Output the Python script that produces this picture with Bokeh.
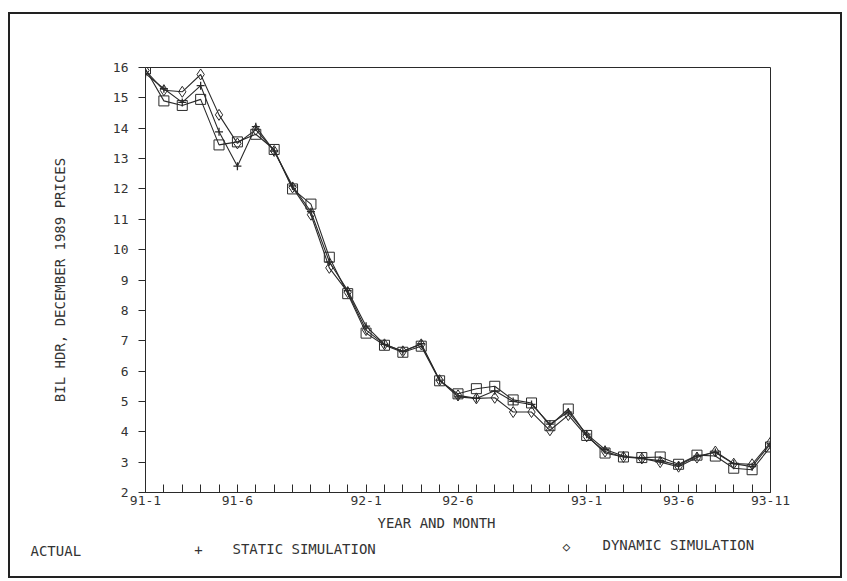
from bokeh.plotting import figure
from bokeh.models import FixedTicker, Label, Range1d
from bokeh.embed import file_html
from bokeh.resources import INLINE

# ---- data ----
month_labels = ["91-1", "91-6", "92-1", "92-6", "93-1", "93-6", "93-11"]
label_months = [0, 5, 12, 17, 24, 29, 34]
months = list(range(35))

actual = [15.95, 14.9, 14.75, 14.95, 13.45, 13.55, 13.8, 13.3, 12.0, 11.5,
          9.75, 8.55, 7.25, 6.85, 6.62, 6.82, 5.68, 5.25, 5.42, 5.5,
          5.05, 4.95, 4.2, 4.75, 3.88, 3.3, 3.17, 3.15, 3.17, 2.93,
          3.23, 3.2, 2.8, 2.75, 3.5]
static = [15.8, 15.3, 14.85, 15.4, 13.88, 12.75, 14.05, 13.25, 12.1, 11.25,
          9.6, 8.65, 7.48, 6.88, 6.65, 6.9, 5.7, 5.15, 5.1, 5.35,
          5.0, 4.9, 4.25, 4.65, 3.92, 3.42, 3.2, 3.12, 3.05, 2.9,
          3.2, 3.32, 2.95, 2.85, 3.6]
dynamic = [15.9, 15.25, 15.2, 15.77, 14.44, 13.5, 13.95, 13.25, 12.05, 11.15,
           9.4, 8.6, 7.35, 6.88, 6.65, 6.88, 5.7, 5.2, 5.1, 5.12,
           4.65, 4.65, 4.05, 4.55, 3.85, 3.35, 3.17, 3.12, 3.0, 2.85,
           3.15, 3.35, 2.95, 2.93, 3.65]
y_ticks = list(range(2, 17))

FONT = "DejaVu Sans Mono"
INK = "#2a2a2a"
TXT = "#333333"
BORDER = "2px solid #222"

W = 834
H1 = 494
H2 = 72

p = figure(width=W, height=H1, output_backend="svg", toolbar_location=None,
           x_range=Range1d(0, 34), y_range=Range1d(2, 16),
           min_border_left=135, min_border_right=74,
           min_border_top=53, min_border_bottom=16)
p.styles = {"border-left": BORDER, "border-top": BORDER, "border-right": BORDER,
            "margin-left": "8px", "margin-top": "12px"}
p.grid.visible = False
p.outline_line_color = INK
p.outline_line_width = 1
p.background_fill_color = "white"
p.border_fill_color = "white"

# x axis
p.xaxis.ticker = FixedTicker(ticks=months)
overrides = {m: "" for m in months}
overrides.update({m: l for m, l in zip(label_months, month_labels)})
p.xaxis.major_label_overrides = overrides
p.xaxis.major_tick_in = 8
p.xaxis.major_tick_out = 0
p.xaxis.minor_tick_line_color = None
p.xaxis.axis_line_color = INK
p.xaxis.major_tick_line_color = INK
p.xaxis.major_label_text_font = FONT
p.xaxis.major_label_text_font_size = "13px"
p.xaxis.major_label_text_color = TXT
p.xaxis.major_label_standoff = 3

# y axis
p.yaxis.ticker = FixedTicker(ticks=y_ticks)
p.yaxis.major_tick_in = 0
p.yaxis.major_tick_out = 7
p.yaxis.minor_tick_line_color = None
p.yaxis.axis_line_color = INK
p.yaxis.major_tick_line_color = INK
p.yaxis.major_label_text_font = FONT
p.yaxis.major_label_text_font_size = "13px"
p.yaxis.major_label_text_color = TXT
p.yaxis.major_label_standoff = 10
p.yaxis.axis_label = "BIL HDR, DECEMBER 1989 PRICES"
p.yaxis.axis_label_text_font = FONT
p.yaxis.axis_label_text_font_size = "14px"
p.yaxis.axis_label_text_font_style = "normal"
p.yaxis.axis_label_text_color = TXT
p.yaxis.axis_label_standoff = 42

# series
p.line(months, actual, line_color=INK, line_width=1.1)
p.scatter(months, actual, marker="square", size=10, fill_color=None, line_color=INK, line_width=1)
p.line(months, static, line_color=INK, line_width=1.1)
p.scatter(months, static, marker="cross", size=8, line_color=INK, line_width=1.3)
p.line(months, dynamic, line_color=INK, line_width=1.1)
p.scatter(months, dynamic, marker="diamond", size=11, fill_color=None, line_color=INK, line_width=1)

# bottom strip: x title and legend (separate root, not frame-aligned)
q = figure(width=W, height=H2, output_backend="svg", toolbar_location=None,
           x_range=Range1d(0, W), y_range=Range1d(0, H2),
           min_border=0, min_border_left=0, min_border_right=0,
           min_border_top=0, min_border_bottom=0)
q.styles = {"border-left": BORDER, "border-bottom": BORDER, "border-right": BORDER,
            "margin-left": "8px"}
q.axis.visible = False
q.grid.visible = False
q.outline_line_color = None
q.background_fill_color = "white"
q.border_fill_color = "white"


def lab(x, y, t, size="14px", align="left"):
    q.add_layout(Label(x=x, y=y, x_units="screen", y_units="screen", text=t,
                       text_font=FONT, text_font_size=size, text_color=TXT,
                       text_align=align, text_baseline="middle"))


lab(367, 56, "YEAR AND MONTH")
lab(20, 28, "ACTUAL")
lab(188, 29, "+", "14px", "center")
lab(222, 30, "STATIC SIMULATION")
lab(556, 32, "\u25c7", "13px", "center")
lab(592, 34, "DYNAMIC SIMULATION")

open("out.html", "w").write(file_html((p, q), INLINE))
